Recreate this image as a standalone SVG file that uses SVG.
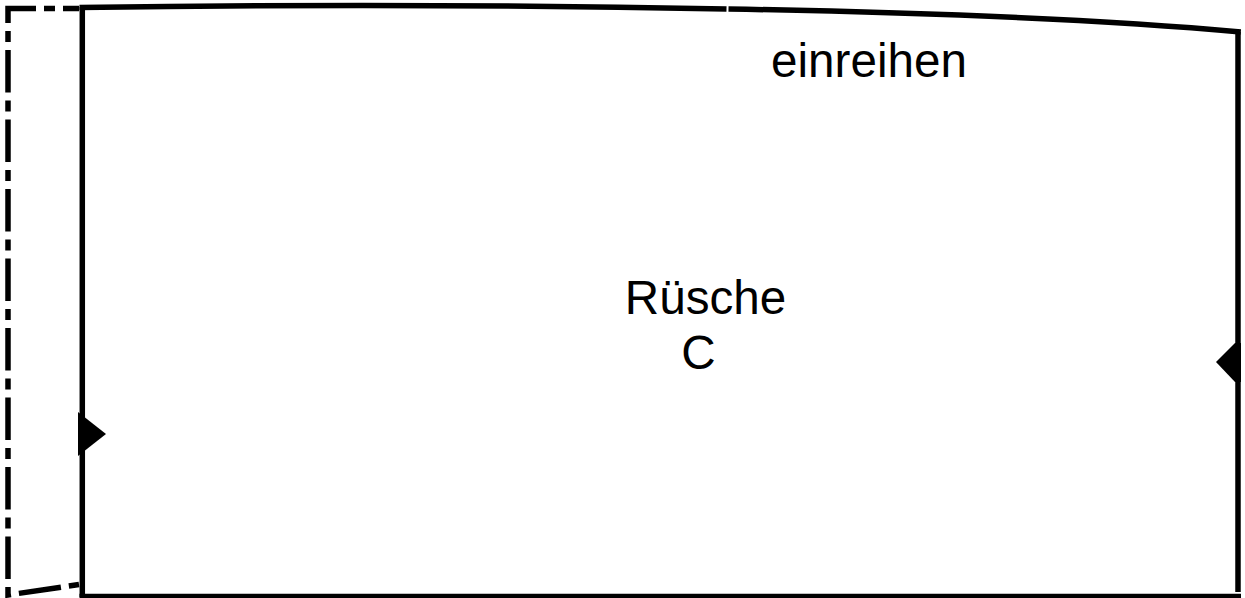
<svg xmlns="http://www.w3.org/2000/svg" width="1245" height="598" viewBox="0 0 1245 598">
<style>
.s{fill:none;stroke:#000;stroke-width:5.5}
.d{fill:none;stroke:#000;stroke-width:5.5;stroke-dasharray:42.5 8 11 8;stroke-dashoffset:26.5}
.t{font-family:"Liberation Sans",Arial,sans-serif;font-size:47.600px;fill:#000;text-anchor:middle}
.m{fill:#000;stroke:none}
</style>
<rect width="1245" height="598" fill="#fff"/>
<g id="connectors">
<path id="fold" class="d" d="M79 8.500H8V595L79 584.500"/>
<path id="top-a" class="s" d="M79.500 7.500C300 4.500 520 5 726.500 9"/>
<path id="top-b" class="s" d="M728.500 9C900 12 1100 19 1240.800 32"/>
<path id="left" class="s" d="M82.300 7V597"/>
<path id="right" class="s" d="M1238 32V592"/>
<path id="bottom" class="s" d="M79.500 596.500H1241"/>
</g>
<g id="notch-left"><path class="m" d="M78 412L106 434L78 456Z"/></g>
<g id="notch-right"><path class="m" d="M1216 362L1235 343H1241V382H1235Z"/></g>
<g id="label-gather"><text class="t" x="869" y="77">einreihen</text></g>
<g id="label-name"><text class="t" x="705.500" y="314">Rüsche</text><text class="t" x="698.500" y="369">C</text></g>
</svg>
